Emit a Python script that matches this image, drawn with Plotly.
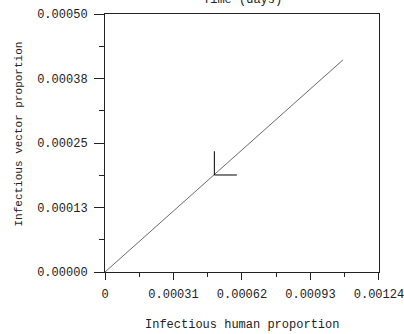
import plotly.graph_objects as go

# trajectory (infectious human proportion vs infectious vector proportion)
human = [0.0, 0.00010, 0.00025, 0.000495, 0.00075, 0.00095, 0.001077]
vector = [0.0, 0.000038, 0.000095, 0.000188, 0.000286, 0.000362, 0.000411]

# marker cross at the point
cross_x = [0.000495, 0.000495, None, 0.000495, 0.000597]
cross_y = [0.000234, 0.000188, None, 0.000188, 0.000188]

x_ticks = [0, 0.00031, 0.00062, 0.00093, 0.00124]
x_labels = ["0", "0.00031", "0.00062", "0.00093", "0.00124"]
y_ticks = [0, 0.000125, 0.00025, 0.000375, 0.0005]
y_labels = ["0.00000", "0.00013", "0.00025", "0.00038", "0.00050"]

FONT = "Liberation Mono, Courier New, monospace"

fig = go.Figure()
fig.add_trace(go.Scatter(x=human, y=vector, mode="lines",
                         line=dict(color="#6a6a6a", width=1), hoverinfo="skip"))
fig.add_trace(go.Scatter(x=cross_x, y=cross_y, mode="lines",
                         line=dict(color="#000000", width=1), hoverinfo="skip"))

fig.update_layout(
    width=404, height=334,
    margin=dict(l=105, r=25, t=14, b=62, autoexpand=False),
    paper_bgcolor="white", plot_bgcolor="white",
    showlegend=False,
    font=dict(family=FONT, size=12, color="#222222"),
    xaxis=dict(range=[0, 0.0012402], tickvals=x_ticks, ticktext=x_labels,
               showgrid=False, zeroline=False, showline=True, linecolor="#222",
               linewidth=1, mirror=True, ticks="outside", ticklen=7,
               tickcolor="#222", tickwidth=1, ticklabelstandoff=4,
               ticklabeloverflow="allow", automargin=False,
               minor=dict(ticks="outside", ticklen=4, tickcolor="#222",
                          dtick=0.000155, tick0=0, showgrid=False),
               tickfont=dict(size=12, family=FONT)),
    yaxis=dict(range=[0, 0.0005], tickvals=y_ticks, ticktext=y_labels,
               showgrid=False, zeroline=False, showline=True, linecolor="#222",
               linewidth=1, mirror=True, ticks="outside", ticklen=10,
               tickcolor="#222", tickwidth=1, ticklabelstandoff=4,
               automargin=False,
               minor=dict(ticks="outside", ticklen=5, tickcolor="#222",
                          dtick=0.0000625, tick0=0, showgrid=False),
               tickfont=dict(size=12, family=FONT)),
    annotations=[
        dict(text="Infectious human proportion", xref="paper", yref="paper",
             x=0.5, y=0, yshift=-53, showarrow=False, yanchor="middle",
             font=dict(size=12, family=FONT, color="#222")),
        dict(text="Infectious vector proportion", xref="paper", yref="paper",
             x=0, y=0.533, xshift=-86, textangle=-90, showarrow=False,
             xanchor="center", yanchor="middle",
             font=dict(size=11, family=FONT, color="#222")),
        dict(text="Time (days)", xref="paper", yref="paper",
             x=0.5, y=1, yshift=14, showarrow=False, yanchor="middle",
             font=dict(size=12, family=FONT, color="#222")),
    ],
)

fig.write_html("out.html", config={"displayModeBar": False},
               post_script="document.body.style.margin='0';document.body.style.overflow='hidden';")
